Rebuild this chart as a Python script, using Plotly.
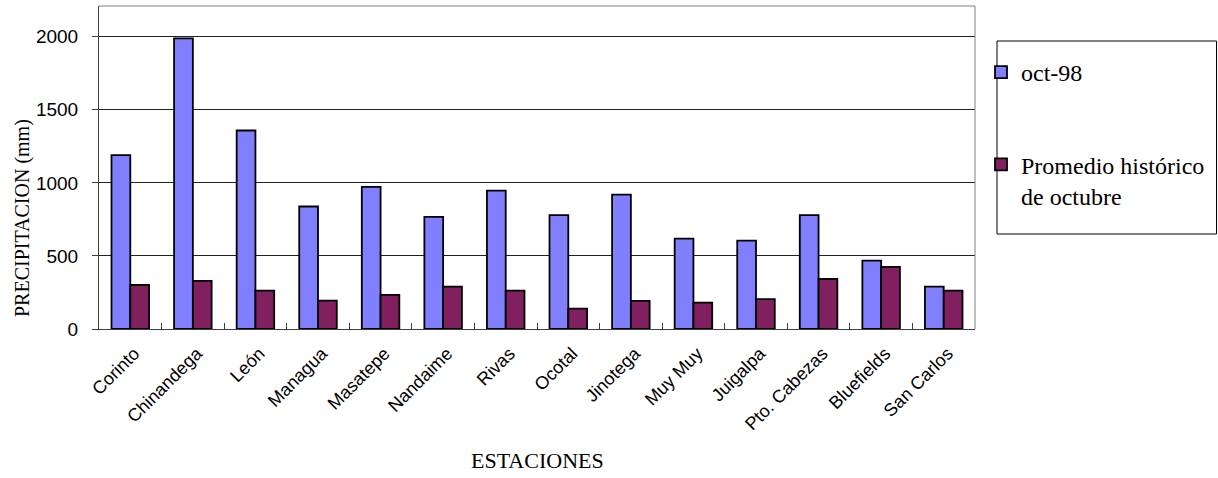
import plotly.graph_objects as go

# Estaciones meteorológicas y precipitación (mm)
estaciones = ["Corinto", "Chinandega", "León", "Managua", "Masatepe", "Nandaime",
              "Rivas", "Ocotal", "Jinotega", "Muy Muy", "Juigalpa", "Pto. Cabezas",
              "Bluefields", "San Carlos"]
oct_98 = [1190, 1988, 1358, 838, 973, 767, 947, 779, 920, 619, 605, 779, 468, 290]
promedio_octubre = [301, 329, 262, 194, 233, 290, 262, 139, 192, 180, 205, 342, 425, 262]
y_ticks = [0, 500, 1000, 1500, 2000]

AZUL = "#8080FF"
MORADO = "#80205F"
SERIF = "Liberation Serif, Times New Roman, serif"
SANS = "Liberation Sans, Arial, sans-serif"

fig = go.Figure()
fig.add_trace(go.Bar(
    x=estaciones, y=oct_98, name="oct-98", legendgroup="a",
    marker=dict(color=AZUL, line=dict(color="black", width=1.8)),
))
fig.add_trace(go.Bar(
    x=estaciones, y=promedio_octubre, name="Promedio histórico<br>de octubre",
    legendgroup="b",
    marker=dict(color=MORADO, line=dict(color="black", width=1.8)),
))

fig.update_layout(
    width=1218, height=478,
    margin=dict(l=99, r=243, t=6, b=149),
    paper_bgcolor="white", plot_bgcolor="white",
    barmode="group", bargap=0.4, bargroupgap=0,
    showlegend=True,
    legend=dict(
        x=1.0 + 6 / 876, xanchor="left", y=(329 - 50) / 323, yanchor="top",
        font=dict(family=SERIF, size=24, color="black"),
        bgcolor="rgba(0,0,0,0)", borderwidth=0,
        traceorder="grouped", tracegroupgap=58, valign="top",
        itemwidth=30,
    ),
    xaxis=dict(
        tickangle=-45, tickson="boundaries", ticks="inside", ticklen=6,
        tickcolor="#404040", showline=True, linecolor="#404040", linewidth=1,
        tickfont=dict(family=SANS, size=18, color="black"),
        ticklabelstandoff=6, ticklabelshift=4,
        showgrid=False, mirror=False, fixedrange=True,
    ),
    yaxis=dict(
        range=[0, 2210], tickvals=y_ticks, ticks="outside", ticklen=6,
        tickcolor="#404040", showline=True, linecolor="#404040", linewidth=1,
        tickfont=dict(family=SANS, size=19, color="black"),
        ticklabelstandoff=10,
        showgrid=True, gridcolor="#202020", gridwidth=1,
        zeroline=False, fixedrange=True,
    ),
    shapes=[
        # borde superior y derecho del área de trazado
        dict(type="line", xref="paper", yref="paper", x0=0, x1=1, y0=1, y1=1,
             line=dict(color="#808080", width=1)),
        dict(type="line", xref="paper", yref="paper", x0=1, x1=1, y0=0, y1=1,
             line=dict(color="#808080", width=1)),
        # marco de la leyenda
        dict(type="rect", xref="paper", yref="paper",
             x0=(997 - 99) / 876, x1=(1216.5 - 99) / 876,
             y0=(329 - 234) / 323, y1=(329 - 41) / 323,
             line=dict(color="black", width=1), fillcolor="rgba(0,0,0,0)"),
    ],
    annotations=[
        dict(text="ESTACIONES", xref="paper", yref="paper", x=0.5, y=(329 - 460) / 323,
             xanchor="center", yanchor="middle", showarrow=False,
             font=dict(family=SERIF, size=22, color="black")),
        dict(text="PRECIPITACION (mm)", xref="paper", yref="paper",
             x=(22 - 99) / 876, y=(329 - 218) / 323, textangle=-90,
             xanchor="center", yanchor="middle", showarrow=False,
             font=dict(family=SERIF, size=20, color="black")),
    ],
)

fig.write_html("out.html")
